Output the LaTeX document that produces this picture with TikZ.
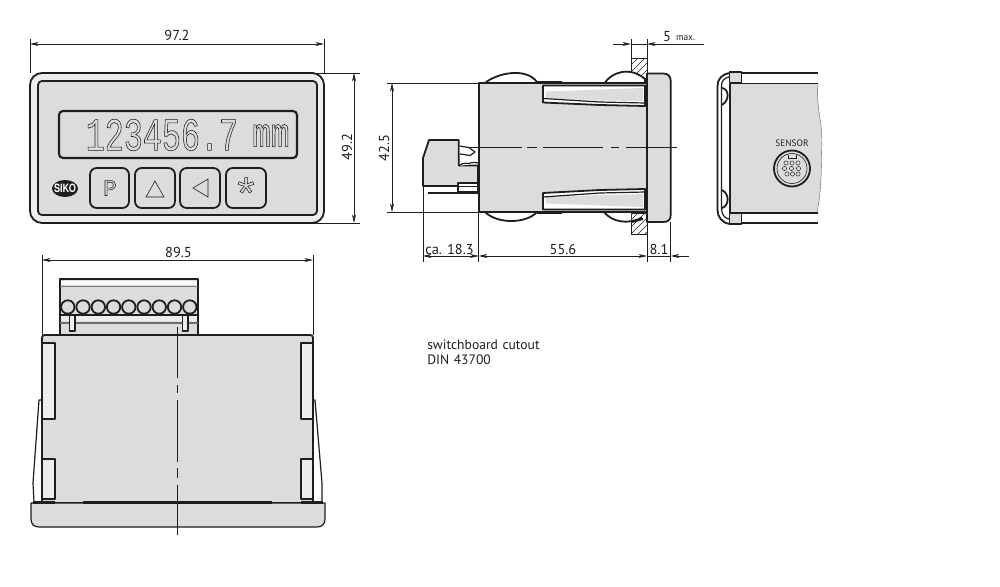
\documentclass[tikz,border=0pt]{standalone}
\usepackage{fontspec}
\usetikzlibrary{arrows.meta}
\setmainfont{PT Sans}
\newfontfamily\dispfont[FakeStretch=0.68]{Liberation Mono}
\newfontfamily\unitfont[FakeStretch=0.75]{Liberation Mono}
\newfontfamily\keyfont{Liberation Mono}
\newfontfamily\logofont[FakeStretch=0.8]{TeX Gyre Heros}
\newcommand{\outl}[1]{\special{pdf:code q 1 Tr 0.42 w 0.12 G}#1\special{pdf:code Q}}
\definecolor{bodygrey}{HTML}{DBDCDB}
\definecolor{lightgrey}{HTML}{ECEDEC}
\definecolor{inkc}{HTML}{1E1E1E}
\tikzset{
  heavy/.style={draw=inkc,line width=1.35pt,line join=round},
  medium/.style={draw=inkc,line width=0.9pt,line join=round},
  thinl/.style={draw=inkc,line width=0.45pt},
  dimline/.style={draw=inkc,line width=0.45pt},
  dimboth/.style={dimline,{Stealth[length=6.5pt,width=3pt]}-{Stealth[length=6.5pt,width=3pt]}},
  dimto/.style={dimline,-{Stealth[length=6.5pt,width=3pt]}},
  ext/.style={draw=inkc,line width=0.45pt},
  centre/.style={draw=inkc,line width=0.45pt},
  lab/.style={inner sep=0pt,text=inkc,font=\fontsize{10.8pt}{12pt}\selectfont},
  keybox/.style={heavy,fill=bodygrey,rounded corners=5pt},
  hatchl/.style={draw=inkc,line width=0.35pt},
  pinhole/.style={draw=inkc,line width=0.35pt,fill=bodygrey}
}
\begin{document}
\begin{tikzpicture}[x=0.75pt,y=-0.75pt]
\useasboundingbox (0,0) rectangle (1000,586);
\fill[white] (0,0) rectangle (1000,586);

% ---------- front view
\draw[heavy,fill=lightgrey,rounded corners=9pt] (30,73) rectangle (324,223);
\draw[heavy,line width=2pt] (42,73)--(55,73) (301,73)--(314,73) (42,223)--(55,223) (301,223)--(314,223);
\draw[heavy,fill=bodygrey,rounded corners=3pt] (38,81) rectangle (317,215);
\draw[heavy,line width=1.6pt,fill=bodygrey,rounded corners=3pt] (59,111) rectangle (297,158);
\node[anchor=west,inner sep=0pt,text=inkc] (digits) at (85.5,135) {\fontsize{35pt}{35pt}\dispfont\outl{123456.7}};
\node[anchor=west,inner sep=0pt,text=inkc] (unit) at (252,135.5) {\fontsize{31pt}{31pt}\unitfont\outl{mm}};
\draw[keybox] (90,168) rectangle (129,208);
\draw[keybox] (135,168) rectangle (175,208);
\draw[keybox] (180,168) rectangle (220,208);
\draw[keybox] (226,168) rectangle (266,208);
\node[inner sep=0pt,text=inkc] (keyP) at (110,188) {\fontsize{17pt}{17pt}\keyfont\outl{P}};
\draw[thinl,line join=miter] (146,197)--(155,181)--(164,197)--cycle;
\draw[thinl,line join=miter] (208,179)--(208,197)--(193,188)--cycle;
\node[inner sep=0pt,text=inkc] (keyStar) at (246,193.5) {\fontsize{33pt}{33pt}\keyfont\outl{*}};
\fill[inkc] (65,188.5) ellipse (13 and 8.5);
\node[inner sep=0pt,text=white] (logo) at (65,188.5) {\fontsize{8.6pt}{9pt}\logofont\bfseries SIKO};

% front dimensions
\coordinate (fl) at (30,44); \coordinate (fr) at (324,44);
\coordinate (fh1) at (354,73); \coordinate (fh2) at (354,223);
\draw[ext] (30,39)--(30,73) (324,39)--(324,73);
\draw[ext] (312,73)--(360,73) (312,223)--(360,223);
\draw[dimboth] (fl)--(fr);
\draw[dimboth] (fh1)--(fh2);
\node[lab] (d972) at (177,35.5) {97.2};
\node[lab,rotate=90] (d492) at (347,147) {49.2};

% ---------- side view
% panel hatching
\draw[thinl,fill=white] (631,58) rectangle (647,80);
\draw[thinl,fill=white] (631,213) rectangle (647,234);
\begin{scope}
\clip (631,58) rectangle (647,80);
\foreach \k in {0,7,...,49} \draw[hatchl] (605+\k,84)--(635+\k,54);
\end{scope}
\begin{scope}
\clip (631,213) rectangle (647,234);
\foreach \k in {0,7,...,49} \draw[hatchl] (605+\k,239)--(635+\k,209);
\end{scope}
% clips behind the body
\draw[heavy,fill=white] (485,83) .. controls (497,73) and (526,67) .. (537,82);
\draw[heavy,fill=white] (604,84) .. controls (611,72) and (630,66) .. (645,79) -- (645,84);
\draw[heavy,fill=white] (485,212) .. controls (497,224) and (526,224) .. (537,212);
\fill[white] (604,212) .. controls (612,222) and (628,224) .. (631,220)--(631,212)--cycle;
\draw[heavy] (604,212) .. controls (612,222) and (628,225) .. (642,217.5);
\draw[heavy] (632,222)--(643,219);
\draw[heavy,fill=bodygrey] (479,83) rectangle (647,212);
\draw[heavy,line width=1.8pt] (537,82)--(562,82) (537,212.5)--(562,212.5);
% latches
\draw[heavy,fill=white] (543,85.5)--(645,85.5)--(645,106)--(600,105)--(543,102.5)--cycle;
\draw[heavy,fill=white] (543,209.5)--(645,209.5)--(645,189)--(600,190)--(543,193)--cycle;
\fill[bodygrey] (546,91.5)--(643,88)--(643,101)--(600,100.5)--(546,98.5)--cycle;
\fill[bodygrey] (546,203.5)--(643,207)--(643,194)--(600,195)--(546,197)--cycle;
\draw[medium] (543,98.5)--(600,102)--(645,103) (543,197)--(600,193)--(645,192);
\draw[heavy] (645,85)--(645,106) (645,189)--(645,210);
% bezel
\draw[heavy,fill=bodygrey] (647,73.5)--(663,73.5) .. controls (668,73.5) and (670.7,76) .. (670.7,81)--(670.7,215) .. controls (670.7,220) and (668,222) .. (663,222)--(647,222)--cycle;
% connector
\draw[heavy,fill=bodygrey] (429,140)--(458.7,140)--(458.7,165.5)--(478,165.5)--(478,186)--(423,186)--(423,158)--cycle;
\draw[medium,fill=white] (459.5,146)--(469,147.5)--(475,152)--(470,155.5)--(460,154);
\draw[medium,fill=white] (459,166)..controls (464,161) and (468,165) .. (472,162.5)..controls (474,161.5) and (476,163) .. (478,163);
\draw[medium,fill=white] (458,183) rectangle (478,192);
\draw[thinl] (458,186)--(478,186);
\draw[heavy,line width=1.8pt] (428,193)--(478,193);
% centre line
\coordinate (sc1) at (470,147); \coordinate (sc2) at (677,147);
\draw[centre,dash pattern=on 38.7pt off 3.7pt on 7.5pt off 5pt on 45pt off 6pt on 6pt off 5pt on 38pt] (sc1)--(sc2);
% side dimensions
\coordinate (sv1) at (392,83); \coordinate (sv2) at (392,212);
\draw[ext] (387,83)--(479,83) (387,212)--(479,212);
\draw[dimboth] (sv1)--(sv2);
\node[lab,rotate=90] (d425) at (384,148) {42.5};
\coordinate (xa) at (423,256); \coordinate (xb) at (478.7,256); \coordinate (xc) at (647,256);
\coordinate (xd) at (670.7,256); \coordinate (xe) at (689,256);
\draw[ext] (423,186)--(423,262) (478.7,212)--(478.7,262) (647,222)--(647,262) (670.7,222)--(670.7,262);
\draw[dimboth] (xa)--(xb);
\draw[dimboth] (xb)--(xc);
\draw[dimline] (xc)--(xd);
\draw[dimto] (xe)--(xd);
\node[lab] (d183) at (449.5,249) {ca. 18.3};
\node[lab] (d556) at (563,249) {55.6};
\node[lab] (d81) at (659,249) {8.1};
% 5 max
\coordinate (ma) at (613,44); \coordinate (mb) at (631,44); \coordinate (mc) at (647,44); \coordinate (md) at (704,44);
\draw[ext] (631,39)--(631,58) (647,39)--(647,58);
\draw[dimto] (ma)--(mb);
\draw[dimto] (md)--(mc);
\draw[dimline] (mb)--(mc);
\node[lab] (d5) at (667,37) {5};
\node[lab,font=\fontsize{7pt}{8pt}\selectfont] (dmax) at (685.5,38.5) {max.};

% ---------- rear side view
\draw[heavy,fill=white] (730,73) .. controls (722,74) and (717.5,79) .. (717.5,86)--(717.5,210) .. controls (717.5,217) and (722,223) .. (730,224);
\draw[medium] (729,77) .. controls (724,78) and (721.5,81) .. (721.5,86)--(721.5,208) .. controls (721.5,214) and (724,218) .. (729,219);
\fill[bodygrey] (730,84)--(818,84) .. controls (816,106) and (822,122) .. (822,140) .. controls (821,165) and (822,190) .. (817,212)--(730,212)--cycle;
\draw[draw=inkc!70,line width=0.3pt] (818,84) .. controls (816,106) and (822,122) .. (822,140) .. controls (821,165) and (822,190) .. (817,212);
\draw[heavy] (730,84)--(730,212);
\draw[heavy] (735,73)--(818,73) (735,83.5)--(818,83.5) (735,213)--(818,213) (735,223)--(818,223);
\draw[heavy,fill=bodygrey] (729.5,72) rectangle (741.5,83);
\draw[heavy,fill=bodygrey] (729.5,213) rectangle (741.5,224);
\draw[heavy] (722,88) .. controls (729,89) and (730,100) .. (722,105);
\draw[heavy] (722,190) .. controls (730,194) and (729,206) .. (722,208);
\node[inner sep=0pt,text=inkc,font=\fontsize{7pt}{8pt}\selectfont] (sensor) at (792,143) {SENSOR};
\coordinate (sk) at (792,168.5);
\draw[heavy,fill=bodygrey] (sk) circle (18);
\draw[thinl] (sk) circle (15);
\draw[thinl,fill=bodygrey] (788,155) -- (788,158) -- (796,158) -- (796,155);
\foreach \px/\py in {786/163,792/163,798/163,784.5/168.5,791.5/168.5,798.5/168.5,787/174,792.5/174,798/174}
  \draw[pinhole] (\px,\py) circle (2.1);

% ---------- bottom view
% side clips
\draw[medium,fill=white] (39,400)--(33,483)--(34,502)--(43,502)--(43,400)--cycle;
\draw[medium,fill=white] (315,400)--(322,483)--(322,502)--(313,502)--(313,400)--cycle;
% terminal block
\draw[heavy,fill=bodygrey] (60,279) rectangle (198,335);
\fill[white!90!bodygrey] (61,280.5) rectangle (197,285);
\draw[thinl,draw=inkc!60] (60,286)--(198,286);
\fill[lightgrey] (61,315.5) rectangle (197,320.5);
\draw[heavy] (60,315)--(198,315);
\draw[heavy,draw=inkc!65,line width=1.9pt] (60,323)--(198,323);
\foreach \n in {0,...,8} \draw[heavy,fill=bodygrey] ({67.8+15.25*\n},307) circle (6.7);
\draw[heavy,fill=lightgrey] (69.5,315) rectangle (75,331);
\draw[heavy,fill=lightgrey] (182.5,315) rectangle (188,331);
% body
\draw[heavy,fill=bodygrey,rounded corners=2pt] (42,502)--(42,335)--(313,335)--(313,502);
\foreach \xa/\xb in {42.5/55,301/312.5} {
  \draw[heavy,fill=lightgrey] (\xa,343) rectangle (\xb,419);
  \draw[heavy,fill=lightgrey] (\xa,459) rectangle (\xb,499);
}
% bezel
\draw[medium,fill=bodygrey] (31,503)--(31,519) .. controls (31,524) and (34,527) .. (39,527)--(317,527) .. controls (322,527) and (325,524) .. (325,519)--(325,503)--cycle;
\draw[heavy,line width=1.9pt] (33,502.5)--(55,502.5) (83,502.5)--(272,502.5) (301,502.5)--(323,502.5);
\draw[draw=inkc,line width=0.5pt] (55,502.5)--(301,502.5);
\coordinate (bc1) at (177,327); \coordinate (bc2) at (177,535);
\draw[centre,dash pattern=on 38.2pt off 5.2pt on 6pt off 5.2pt on 46.5pt off 4.5pt on 7.5pt off 5.2pt on 37.5pt] (bc1)--(bc2);
% bottom dimension
\coordinate (bl) at (42,260); \coordinate (br) at (313,260);
\draw[ext] (42,255)--(42,335) (313,255)--(313,335);
\draw[dimboth] (bl)--(br);
\node[lab] (d895) at (178.5,252) {89.5};

% ---------- note
\node[lab,anchor=north west,align=left,text width=150pt,font=\fontsize{10.2pt}{11.2pt}\selectfont] (note) at (427,340) {switchboard cutout\\DIN 43700};
\end{tikzpicture}
\end{document}
